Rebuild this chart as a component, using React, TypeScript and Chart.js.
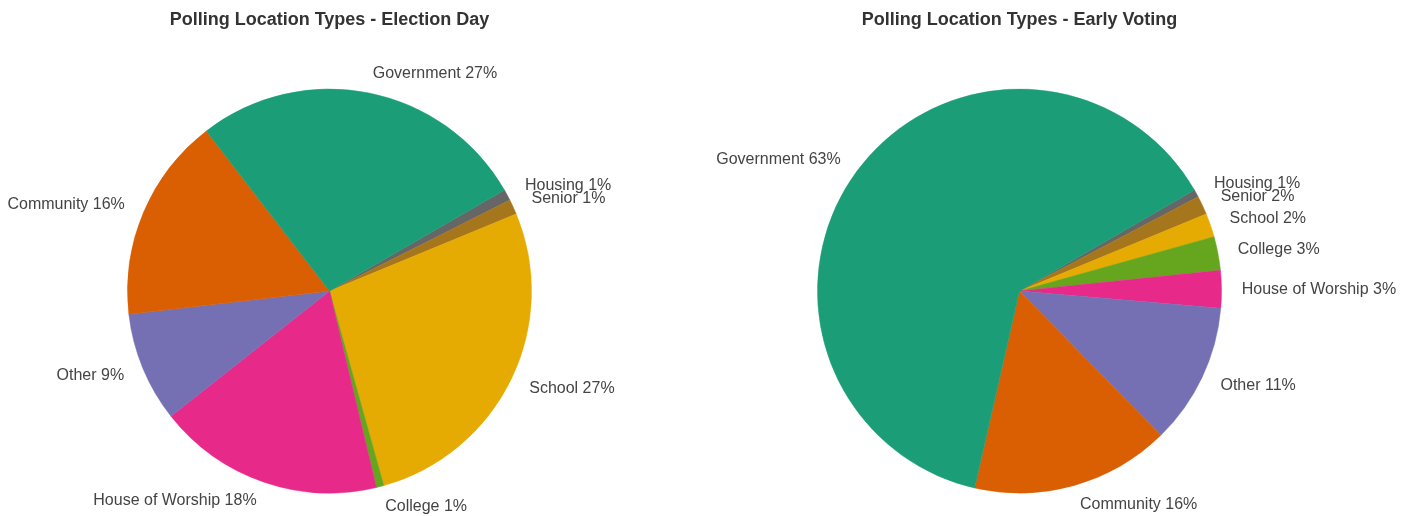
import React, { useEffect, useRef } from "react";
import { Chart, registerables } from "chart.js";

Chart.register(...registerables);

const categories = ["Government", "Community", "Other", "House of Worship", "College", "School", "Senior", "Housing"];
const electionDayValues = [27.1, 16.4, 8.8, 18.1, 0.6, 26.9, 1.2, 0.9];
const earlyVotingValues = [63.1, 15.9, 11.3, 3.0, 2.7, 1.9, 1.5, 0.6];
const colors = ["#1b9e77", "#d95f02", "#7570b3", "#e7298a", "#66a61e", "#e6ab02", "#a6761d", "#666666"];
const titles = ["Polling Location Types - Election Day", "Polling Location Types - Early Voting"];

const labelPlugin = {
  id: "outerLabels",
  afterDatasetsDraw(chart: any) {
    const ctx = chart.ctx;
    const meta = chart.getDatasetMeta(0);
    const data = chart.data.datasets[0].data as number[];
    const labels = chart.data.labels as string[];
    const total = data.reduce((a, b) => a + b, 0);
    ctx.save();
    ctx.font = "16px 'Liberation Sans', Arial, sans-serif";
    ctx.fillStyle = "#444444";
    ctx.textBaseline = "middle";
    meta.data.forEach((arc: any, i: number) => {
      const mid = (arc.startAngle + arc.endAngle) / 2;
      const r = arc.outerRadius * 1.1;
      const x = arc.x + r * Math.cos(mid);
      const y = arc.y + r * Math.sin(mid);
      ctx.textAlign = Math.cos(mid) > 0 ? "left" : "right";
      const pct = Math.round((data[i] / total) * 100);
      ctx.fillText(`${labels[i]} ${pct}%`, x, y);
    });
    ctx.restore();
  },
};

function PieChart({ values, title, padRight, left }: { values: number[]; title: string; padRight: number; left: number }) {
  const ref = useRef<HTMLCanvasElement>(null);
  useEffect(() => {
    const labels = [...categories].reverse();
    const data = [...values].reverse();
    const bg = [...colors].reverse();
    const chart = new Chart(ref.current!, {
      type: "pie",
      data: {
        labels,
        datasets: [{ data, backgroundColor: bg, borderColor: bg, borderWidth: 0.5 }],
      },
      options: {
        responsive: false,
        animation: false,
        rotation: 60,
        radius: 202,
        layout: { padding: { left: 0, right: padRight, top: 0, bottom: 0 } },
        plugins: {
          legend: { display: false },
          tooltip: { enabled: false },
          title: {
            display: true,
            text: title,
            color: "#333333",
            font: { family: "'Liberation Sans', Arial, sans-serif", size: 18, weight: "bold", lineHeight: 1.2 },
            padding: { top: 9.2, bottom: 35.3 },
          },
        },
      },
      plugins: [labelPlugin],
    });
    return () => chart.destroy();
  }, [values, title, padRight]);
  return (
    <canvas
      ref={ref}
      width={707}
      height={516}
      style={{ position: "absolute", left, top: 0, width: 707, height: 516 }}
    />
  );
}

export default function App() {
  return (
    <div style={{ position: "absolute", left: 0, top: 0, width: 1414, height: 516, background: "#ffffff" }}>
      <PieChart values={electionDayValues} title={titles[0]} padRight={48} left={0} />
      <PieChart values={earlyVotingValues} title={titles[1]} padRight={82} left={707} />
    </div>
  );
}
